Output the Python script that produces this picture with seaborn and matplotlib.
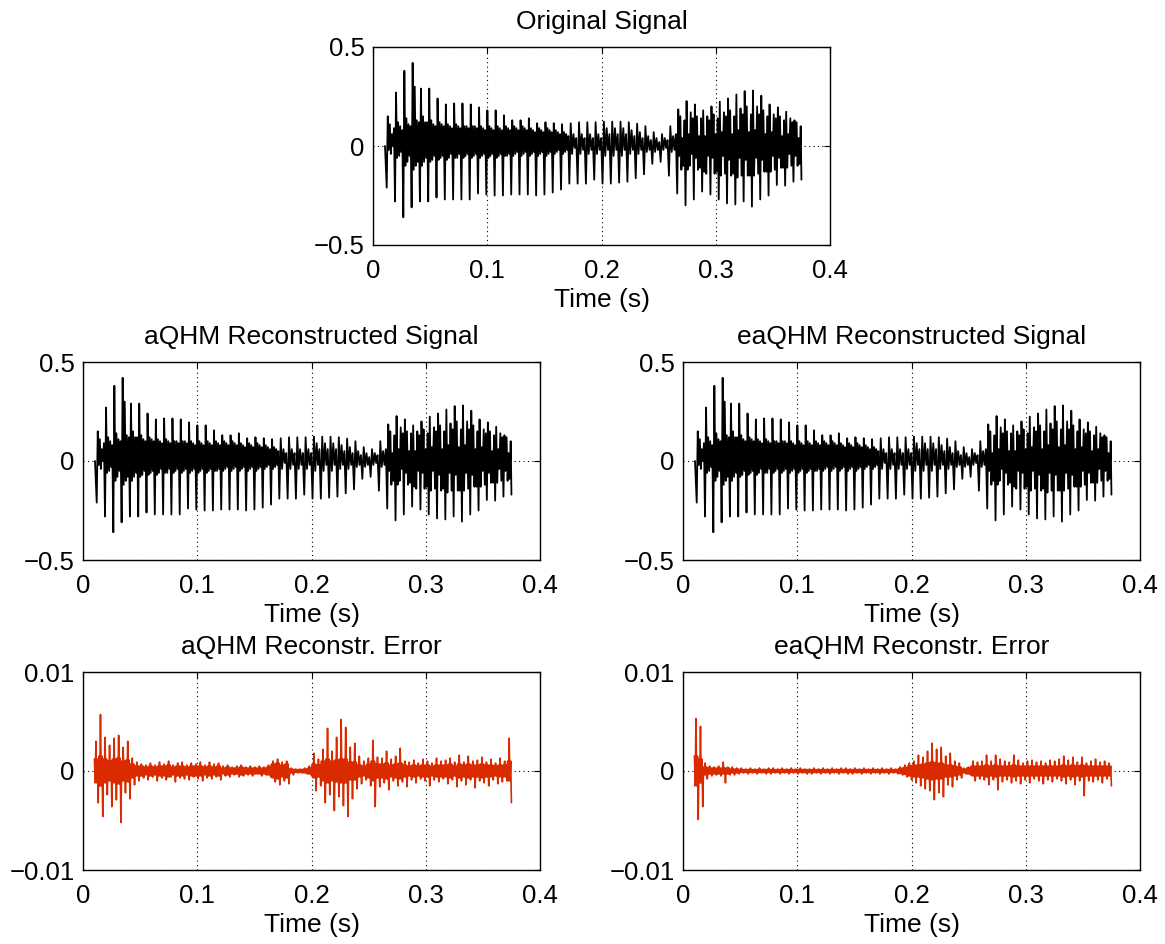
import numpy as np
import pandas as pd
import matplotlib
matplotlib.use("Agg")
import matplotlib.pyplot as plt
import seaborn as sns

# --- valores ---
# sinal de voz: um ciclo de pitch por linha (vale, pico e ondulações seguintes)
sinal_ciclos = [
    [-0.21, 0.15, -0.02, 0.11, -0.04, 0.06, 0.00, 0.09],
    [-0.28, 0.27, -0.06, 0.12, -0.05, 0.10, -0.03, 0.08],
    [-0.36, 0.38, -0.10, 0.14, -0.08, 0.11, -0.05, 0.10],
    [-0.31, 0.42, -0.12, 0.30, -0.10, 0.13, -0.08, 0.12],
    [-0.28, 0.29, -0.10, 0.15, -0.08, 0.12, -0.06, 0.12],
    [-0.28, 0.29, -0.08, 0.13, -0.07, 0.11, -0.05, 0.10],
    [-0.26, 0.24, -0.07, 0.12, -0.06, 0.11, -0.05, 0.10],
    [-0.27, 0.21, -0.07, 0.11, -0.06, 0.10, -0.04, 0.09],
    [-0.27, 0.215, -0.06, 0.11, -0.06, 0.10, -0.04, 0.09],
    [-0.27, 0.215, -0.06, 0.10, -0.05, 0.10, -0.04, 0.09],
    [-0.27, 0.21, -0.06, 0.10, -0.05, 0.10, -0.04, 0.09],
    [-0.24, 0.195, -0.06, 0.10, -0.05, 0.09, -0.04, 0.08],
    [-0.245, 0.18, -0.06, 0.10, -0.05, 0.09, -0.04, 0.08],
    [-0.25, 0.18, -0.06, 0.10, -0.05, 0.09, -0.04, 0.08],
    [-0.25, 0.155, -0.05, 0.10, -0.05, 0.09, -0.04, 0.08],
    [-0.245, 0.13, -0.05, 0.10, -0.04, 0.09, -0.03, 0.08],
    [-0.245, 0.13, -0.05, 0.10, -0.04, 0.09, -0.03, 0.08],
    [-0.245, 0.14, -0.05, 0.09, -0.04, 0.08, -0.03, 0.07],
    [-0.25, 0.115, -0.05, 0.09, -0.04, 0.08, -0.03, 0.07],
    [-0.245, 0.12, -0.05, 0.09, -0.04, 0.08, -0.03, 0.07],
    [-0.235, 0.115, -0.04, 0.08, -0.03, 0.07, -0.02, 0.06],
    [-0.22, 0.11, -0.04, 0.07, -0.03, 0.06, -0.02, 0.05],
    [-0.19, 0.115, -0.04, 0.06, -0.01, 0.04],
    [-0.19, 0.12, -0.04, 0.06, -0.02, 0.04],
    [-0.19, 0.12, -0.04, 0.06, -0.02, 0.04],
    [-0.17, 0.12, -0.04, 0.06, -0.02, 0.04],
    [-0.19, 0.123, -0.05, 0.09, -0.02, 0.06],
    [-0.19, 0.123, -0.05, 0.09, -0.02, 0.06],
    [-0.185, 0.123, -0.05, 0.09, -0.02, 0.06],
    [-0.18, 0.12, -0.04, 0.08, -0.02, 0.05],
    [-0.163, 0.113, -0.04, 0.07, -0.02, 0.04],
    [-0.143, 0.10, -0.03, 0.05, -0.02, 0.03],
    [-0.09, 0.07, -0.03, 0.04, -0.02, 0.02],
    [-0.08, 0.06, -0.02, 0.04, -0.01, 0.03],
    [-0.15, 0.10, -0.03, 0.05, -0.02, 0.06],
    [-0.24, 0.185, -0.05, 0.15, -0.12, 0.04, -0.10, 0.13],
    [-0.30, 0.227, -0.12, 0.06, -0.10, 0.17, -0.04, 0.14],
    [-0.27, 0.21, -0.06, 0.15, -0.12, 0.05, -0.11, 0.14],
    [-0.23, 0.18, -0.13, 0.05, -0.14, 0.15, -0.05, 0.13],
    [-0.245, 0.20, -0.06, 0.16, -0.14, 0.06, -0.13, 0.14],
    [-0.27, 0.224, -0.15, 0.07, -0.05, 0.17, -0.14, 0.15],
    [-0.29, 0.24, -0.07, 0.18, -0.15, 0.06, -0.14, 0.15],
    [-0.295, 0.26, -0.16, 0.08, -0.06, 0.19, -0.15, 0.16],
    [-0.28, 0.277, -0.07, 0.20, -0.15, 0.07, -0.15, 0.16],
    [-0.306, 0.28, -0.15, 0.08, -0.06, 0.20, -0.14, 0.16],
    [-0.27, 0.254, -0.07, 0.18, -0.13, 0.06, -0.13, 0.15],
    [-0.25, 0.21, -0.13, 0.07, -0.05, 0.16, -0.12, 0.14],
    [-0.197, 0.195, -0.06, 0.15, -0.11, 0.05, -0.11, 0.13],
    [-0.20, 0.173, -0.11, 0.06, -0.04, 0.14, -0.10, 0.12],
    [-0.18, 0.13, -0.05, 0.12, -0.10, 0.04, -0.09, 0.10],
]
sinal_inicio = 0.0      # valor no começo (t = 0.0105 s)
sinal_fim = -0.17       # valor no último instante (t = 0.375 s)
t_sinal_inicio, t_primeiro_ciclo, t_ultimo_ciclo, t_sinal_fim = 0.0105, 0.012, 0.368, 0.375

# erros de reconstrução (x 1e-3), a cada 4 ms de 0.010 a 0.374 s:
# picos, vales e largura da faixa "cheia" do ruído
erro_aqhm_max = [
    3.0, 5.7, 3.4, 2.6, 3.3, 3.6, 2.4, 3.0, 1.3, 0.9,
    0.7, 0.6, 0.8, 0.6, 0.9, 0.7, 1.0, 0.6, 0.8, 0.9,
    0.6, 0.8, 0.7, 0.9, 0.6, 0.9, 0.7, 0.8, 0.5, 0.6,
    0.4, 0.5, 0.6, 0.4, 0.5, 0.4, 0.5, 0.4, 0.6, 1.0,
    1.2, 0.9, 1.0, 0.3, 0.2, 0.2, 0.3, 0.5, 1.8, 1.2,
    2.2, 4.3, 2.0, 3.4, 5.2, 4.4, 2.4, 2.8, 1.5, 1.0,
    1.3, 3.1, 1.4, 1.3, 2.0, 1.2, 1.5, 2.3, 1.0, 0.9,
    1.1, 0.8, 1.2, 1.0, 0.8, 1.3, 1.0, 1.1, 1.3, 0.9,
    1.6, 0.9, 1.5, 1.0, 1.1, 1.4, 0.9, 1.2, 0.8, 1.3,
    1.0, 3.3,
]
erro_aqhm_min = [
    -3.2, -4.6, -2.4, -3.6, -2.9, -5.2, -2.2, -2.8, -1.4, -1.0,
    -0.7, -0.9, -0.6, -1.0, -0.7, -0.9, -0.6, -1.1, -0.7, -0.8,
    -0.9, -0.6, -0.8, -1.0, -0.7, -0.8, -0.6, -0.9, -0.5, -0.6,
    -0.4, -0.6, -0.5, -0.4, -0.5, -0.3, -0.5, -0.4, -0.6, -1.1,
    -1.4, -1.0, -1.3, -0.4, -0.2, -0.2, -0.3, -0.5, -2.0, -1.5,
    -3.2, -2.4, -4.0, -2.6, -3.5, -4.6, -2.8, -1.8, -1.3, -0.9,
    -1.5, -3.6, -1.6, -1.2, -1.9, -1.0, -1.5, -1.1, -1.6, -0.9,
    -1.2, -0.8, -1.0, -1.5, -0.9, -1.1, -0.8, -1.3, -0.9, -1.6,
    -1.0, -1.4, -0.9, -1.7, -1.0, -1.2, -1.5, -0.9, -1.3, -1.1,
    -1.0, -3.2,
]
erro_aqhm_faixa = [
    1.2, 1.5, 1.2, 1.0, 1.2, 1.3, 1.0, 1.1, 0.7, 0.5,
    0.5, 0.4, 0.5, 0.4, 0.5, 0.5, 0.6, 0.4, 0.5, 0.5,
    0.4, 0.5, 0.5, 0.5, 0.4, 0.5, 0.4, 0.5, 0.3, 0.4,
    0.3, 0.3, 0.4, 0.3, 0.3, 0.3, 0.3, 0.3, 0.4, 0.7,
    0.8, 0.6, 0.7, 0.2, 0.15, 0.15, 0.2, 0.3, 0.7, 0.6,
    1.0, 1.2, 1.0, 1.1, 1.2, 1.2, 0.9, 0.9, 0.6, 0.5,
    0.7, 1.0, 0.7, 0.7, 0.8, 0.6, 0.7, 0.8, 0.6, 0.5,
    0.6, 0.5, 0.6, 0.6, 0.5, 0.6, 0.6, 0.6, 0.7, 0.5,
    0.7, 0.6, 0.7, 0.6, 0.6, 0.7, 0.6, 0.6, 0.5, 0.6,
    0.6, 1.0,
]
erro_eaqhm_max = [
    5.3, 4.5, 0.8, 0.5, 0.4, 0.5, 0.9, 0.4, 0.4, 0.3,
    0.3, 0.2, 0.3, 0.2, 0.3, 0.2, 0.3, 0.3, 0.2, 0.3,
    0.2, 0.3, 0.2, 0.3, 0.2, 0.2, 0.3, 0.2, 0.3, 0.2,
    0.3, 0.2, 0.3, 0.3, 0.2, 0.3, 0.2, 0.3, 0.2, 0.3,
    0.2, 0.3, 0.2, 0.3, 0.2, 0.4, 0.6, 0.8, 1.0, 1.6,
    1.4, 2.0, 2.8, 2.2, 2.4, 1.5, 1.8, 1.0, 0.8, 0.3,
    0.4, 1.0, 0.9, 1.0, 1.6, 1.0, 1.6, 1.2, 1.0, 0.9,
    1.6, 1.1, 0.8, 1.0, 1.1, 0.9, 1.0, 0.8, 1.1, 1.0,
    1.2, 1.5, 1.1, 1.4, 0.9, 1.4, 0.8, 1.0, 1.2, 0.9,
    1.0, 0.8,
]
erro_eaqhm_min = [
    -4.9, -3.6, -0.8, -0.5, -0.4, -0.5, -1.2, -0.4, -0.4, -0.3,
    -0.2, -0.3, -0.2, -0.3, -0.2, -0.3, -0.3, -0.2, -0.3, -0.2,
    -0.3, -0.2, -0.3, -0.2, -0.3, -0.3, -0.2, -0.3, -0.2, -0.3,
    -0.2, -0.3, -0.2, -0.3, -0.3, -0.2, -0.3, -0.2, -0.3, -0.2,
    -0.3, -0.2, -0.3, -0.2, -0.3, -0.4, -0.6, -0.9, -1.2, -1.5,
    -1.8, -2.0, -2.9, -2.2, -2.6, -1.4, -1.6, -0.9, -0.7, -0.3,
    -0.4, -1.0, -0.8, -0.9, -1.4, -0.9, -1.9, -1.1, -0.9, -1.2,
    -1.0, -1.3, -0.9, -1.2, -0.8, -1.0, -1.3, -0.9, -1.1, -0.8,
    -1.0, -1.3, -0.9, -1.4, -1.0, -2.5, -1.0, -1.1, -0.9, -1.2,
    -0.8, -1.5,
]
erro_eaqhm_faixa = [
    1.5, 1.2, 0.4, 0.3, 0.3, 0.3, 0.3, 0.3, 0.2, 0.2,
    0.15, 0.15, 0.15, 0.15, 0.15, 0.15, 0.15, 0.15, 0.15, 0.15,
    0.15, 0.15, 0.15, 0.15, 0.15, 0.15, 0.15, 0.15, 0.15, 0.15,
    0.15, 0.15, 0.15, 0.15, 0.15, 0.15, 0.15, 0.15, 0.15, 0.15,
    0.15, 0.15, 0.15, 0.15, 0.15, 0.25, 0.35, 0.5, 0.6, 0.6,
    0.7, 0.8, 0.9, 0.8, 0.8, 0.6, 0.6, 0.5, 0.4, 0.2,
    0.3, 0.5, 0.5, 0.5, 0.6, 0.5, 0.6, 0.5, 0.5, 0.5,
    0.6, 0.5, 0.5, 0.5, 0.5, 0.5, 0.5, 0.5, 0.5, 0.5,
    0.5, 0.6, 0.5, 0.6, 0.5, 0.6, 0.5, 0.5, 0.5, 0.5,
    0.5, 0.5,
]
t_erro_inicio, t_erro_fim = 0.010, 0.375

titulos = ["Original Signal", "aQHM Reconstructed Signal", "eaQHM Reconstructed Signal",
           "aQHM Reconstr. Error", "eaQHM Reconstr. Error"]
x_ticks = [0, 0.1, 0.2, 0.3, 0.4]
x_tick_labels = ["0", "0.1", "0.2", "0.3", "0.4"]
y_ticks_sinal = [-0.5, 0, 0.5]
y_labels_sinal = ["\u22120.5", "0", "0.5"]
y_ticks_erro = [-0.01, 0, 0.01]
y_labels_erro = ["\u22120.01", "0", "0.01"]
cor_erro = "#DA2A00"


# monta a forma de onda ciclo a ciclo
def montar_sinal():
    n = len(sinal_ciclos)
    marcas = np.linspace(t_primeiro_ciclo, t_ultimo_ciclo, n)
    periodo = marcas[1] - marcas[0]
    t, y = [t_sinal_inicio], [sinal_inicio]
    for k, ciclo in enumerate(sinal_ciclos):
        passos = len(ciclo)
        for j, v in enumerate(ciclo):
            t.append(marcas[k] + periodo * j / passos)
            y.append(v)
    t.append(t_sinal_fim)
    y.append(sinal_fim)
    return pd.DataFrame({"t": t, "y": y})


# cada janela de 4 ms: faixa, -faixa, pico, -faixa, faixa, vale
def montar_erro(maximos, minimos, faixa):
    n = min(len(maximos), len(minimos), len(faixa))
    y = []
    for k in range(n):
        f = faixa[k]
        y += [f, -f, maximos[k], -f, f, minimos[k]]
    y = np.array(y) * 1e-3
    t = np.linspace(t_erro_inicio, t_erro_fim, len(y))
    return pd.DataFrame({"t": t, "y": y})


sns.set_theme(style="white")
plt.rcParams["font.family"] = ["Liberation Sans", "DejaVu Sans"]
plt.rcParams["text.color"] = "black"
plt.rcParams["axes.labelcolor"] = "black"
plt.rcParams["axes.linewidth"] = 1.0

fig = plt.figure(figsize=(11.65, 9.44), dpi=100)

W = 457 / 1165
H = 198 / 944
eixos = [
    fig.add_axes([373 / 1165, 1 - 245 / 944, W, H]),
    fig.add_axes([83 / 1165, 1 - 560 / 944, W, H]),
    fig.add_axes([683 / 1165, 1 - 560 / 944, W, H]),
    fig.add_axes([83 / 1165, 1 - 870 / 944, W, H]),
    fig.add_axes([683 / 1165, 1 - 870 / 944, W, H]),
]

df_sinal = montar_sinal()
dados = [
    df_sinal, df_sinal, df_sinal,
    montar_erro(erro_aqhm_max, erro_aqhm_min, erro_aqhm_faixa),
    montar_erro(erro_eaqhm_max, erro_eaqhm_min, erro_eaqhm_faixa),
]

for i, (ax, df, titulo) in enumerate(zip(eixos, dados, titulos)):
    erro = i >= 3
    sns.lineplot(data=df, x="t", y="y", ax=ax, estimator=None, sort=False,
                 color=cor_erro if erro else "black", linewidth=1.2 if erro else 1.3)
    ax.set_xlim(0, 0.4)
    ax.set_xticks(x_ticks)
    ax.set_xticklabels(x_tick_labels)
    if erro:
        ax.set_ylim(-0.01, 0.01)
        ax.set_yticks(y_ticks_erro)
        ax.set_yticklabels(y_labels_erro)
    else:
        ax.set_ylim(-0.5, 0.5)
        ax.set_yticks(y_ticks_sinal)
        ax.set_yticklabels(y_labels_sinal)
    ax.set_title(titulo, fontsize=19, pad=13, color="black")
    ax.set_xlabel("Time (s)", fontsize=19, labelpad=4)
    ax.set_ylabel("")
    ax.grid(True, color="black", linestyle=(0, (1, 3)), linewidth=0.8)
    ax.set_axisbelow(True)
    ax.tick_params(direction="in", length=4, width=0.8, top=True, right=True,
                   labelsize=18.5, colors="black")
    ax.tick_params(axis="x", pad=10)
    ax.tick_params(axis="y", pad=6)
    for s in ax.spines.values():
        s.set_color("black")
        s.set_visible(True)

fig.savefig("out.png", dpi=100)
